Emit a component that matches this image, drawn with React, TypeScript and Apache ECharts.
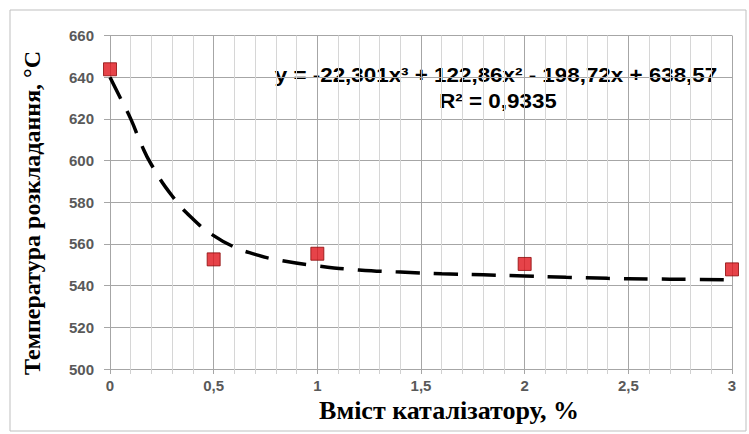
import React, { useEffect, useRef } from "react";
import * as echarts from "echarts";

const measuredX = [0, 0.5, 1, 2, 3];
const measuredY = [643.8, 552.6, 555.3, 550.4, 547.8];

const trendX = [0, 0.05, 0.1, 0.15, 0.2, 0.3, 0.4, 0.5, 0.6, 0.7, 0.8, 1.0, 1.2, 1.4, 1.6, 1.8, 2.0, 2.2, 2.4, 2.6, 2.8, 3.0];
const trendY = [640, 630, 620, 608, 598, 583, 572, 564, 558.5, 555, 552.5, 549.5, 547.5, 546.5, 545.7, 545.2, 544.6, 544, 543.5, 543.2, 543, 542.8];

const equationText = "y = -22,301x³ + 122,86x² - 198,72x + 638,57";
const r2Text = "R² = 0,9335";
const xTitle = "Вміст каталізатору, %";
const yTitle = "Температура розкладання, °С";

export default function App() {
  const ref = useRef<HTMLDivElement>(null);
  useEffect(() => {
    if (!ref.current) return;
    const chart = echarts.init(ref.current, undefined, { renderer: "svg" });
    const labelStyle = {
      color: "#595959",
      fontFamily: "Liberation Sans",
      fontWeight: "bold" as const,
      fontSize: 15,
    };
    const eqStyle = {
      align: "center" as const,
      verticalAlign: "middle" as const,
      fontFamily: "Liberation Sans",
      fontWeight: "bold" as const,
      fontSize: 20,
      fill: "#000",
    };
    chart.setOption({
      animation: false,
      backgroundColor: "#ffffff",
      grid: { left: 110, right: 17, top: 35.5, bottom: 65, containLabel: false },
      xAxis: {
        type: "value",
        min: 0,
        max: 3,
        interval: 0.5,
        name: xTitle,
        nameLocation: "middle",
        nameGap: 26,
        nameTextStyle: {
          fontFamily: "Liberation Serif",
          fontWeight: "bold",
          fontSize: 26,
          color: "#000",
          padding: [0, 0, 0, 56],
        },
        axisLine: { show: true, lineStyle: { color: "#a6a6a6", width: 1 } },
        axisTick: { show: true, length: 5, lineStyle: { color: "#a6a6a6" } },
        minorTick: { show: true, splitNumber: 5, length: 5, lineStyle: { color: "#d0d0d0" } },
        axisLabel: {
          ...labelStyle,
          margin: 9,
          formatter: (v: number) => String(v).replace(".", ","),
        },
        splitLine: { show: true, lineStyle: { color: "#a6a6a6", width: 1 } },
        minorSplitLine: { show: true, lineStyle: { color: "#d6d6d6", width: 1 } },
      },
      yAxis: {
        type: "value",
        min: 500,
        max: 660,
        interval: 20,
        axisLine: { show: true, lineStyle: { color: "#a6a6a6", width: 1 } },
        axisTick: { show: true, length: 6, lineStyle: { color: "#a6a6a6" } },
        axisLabel: { ...labelStyle, margin: 16 },
        splitLine: { show: true, lineStyle: { color: "#a6a6a6", width: 1 } },
      },
      graphic: [
        {
          type: "rect",
          silent: true,
          z: -1,
          shape: { x: 10, y: 10, width: 736, height: 421 },
          style: { fill: "none", stroke: "#bfbfbf", lineWidth: 1 },
        },
        {
          type: "text",
          x: 32,
          y: 213,
          rotation: Math.PI / 2,
          style: {
            text: yTitle,
            align: "center",
            verticalAlign: "middle",
            fontFamily: "Liberation Serif",
            fontWeight: "bold",
            fontSize: 24,
            fill: "#000",
          },
        },
        {
          type: "text",
          x: 496,
          y: 75,
          scaleX: 1.12,
          style: { ...eqStyle, text: equationText },
        },
        {
          type: "text",
          x: 498,
          y: 101,
          scaleX: 1.12,
          style: { ...eqStyle, text: r2Text },
        },
      ],
      series: [
        {
          type: "line",
          data: trendX.map((x, i) => [x, trendY[i]]),
          smooth: true,
          showSymbol: false,
          lineStyle: { color: "#000", width: 3.5, type: [24, 14], cap: "butt" },
          z: 2,
        },
        {
          type: "scatter",
          data: measuredX.map((x, i) => [x, measuredY[i]]),
          symbol: "rect",
          symbolSize: 13,
          itemStyle: { color: "#e0141b", borderColor: "#8c0a0a", borderWidth: 1 },
          z: 3,
        },
      ],
    });
    return () => chart.dispose();
  }, []);
  return <div ref={ref} style={{ width: 749, height: 434, position: "absolute", left: 0, top: 0 }} />;
}
